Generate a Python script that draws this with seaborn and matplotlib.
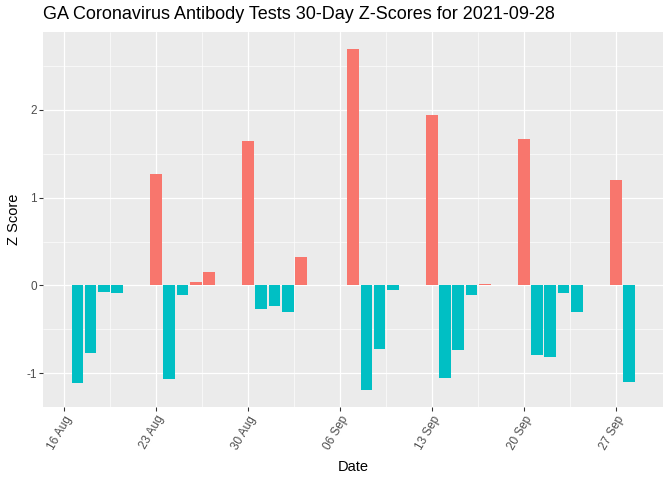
import matplotlib
matplotlib.use("Agg")
import matplotlib.pyplot as plt
import matplotlib.dates as mdates
import matplotlib.ticker as mticker
import seaborn as sns
import pandas as pd
import numpy as np

dates = [
    "2021-08-17", "2021-08-18", "2021-08-19", "2021-08-20",
    "2021-08-23", "2021-08-24", "2021-08-25", "2021-08-26", "2021-08-27",
    "2021-08-30", "2021-08-31", "2021-09-01", "2021-09-02", "2021-09-03",
    "2021-09-07", "2021-09-08", "2021-09-09", "2021-09-10",
    "2021-09-13", "2021-09-14", "2021-09-15", "2021-09-16", "2021-09-17",
    "2021-09-20", "2021-09-21", "2021-09-22", "2021-09-23", "2021-09-24",
    "2021-09-27", "2021-09-28",
]
z_scores = [
    -1.11, -0.77, -0.07, -0.09,
    1.27, -1.07, -0.11, 0.04, 0.15,
    1.64, -0.27, -0.23, -0.30, 0.32,
    2.69, -1.19, -0.72, -0.05,
    1.94, -1.05, -0.73, -0.11, 0.02,
    1.67, -0.79, -0.81, -0.09, -0.30,
    1.20, -1.10,
]
tick_dates = ["2021-08-16", "2021-08-23", "2021-08-30", "2021-09-06",
              "2021-09-13", "2021-09-20", "2021-09-27"]
y_ticks = [-1, 0, 1, 2]
title = "GA Coronavirus Antibody Tests 30-Day Z-Scores for 2021-09-28"

df = pd.DataFrame({"date": pd.to_datetime(dates), "z": z_scores})
df["x"] = mdates.date2num(df["date"])
df["sign"] = np.where(df["z"] > 0, "pos", "neg")

sns.set_theme(style="darkgrid")
plt.rcParams["font.family"] = ["Liberation Sans", "DejaVu Sans"]

fig = plt.figure(figsize=(7, 5), dpi=96)
ax = fig.add_axes([0.0645, 0.152, 0.9225, 0.781])
ax.set_facecolor("#EBEBEB")

sns.barplot(data=df, x="x", y="z", hue="sign", native_scale=True,
            palette={"pos": "#F8766D", "neg": "#00BFC4"}, dodge=False,
            width=0.9, saturation=1, legend=False, ax=ax, linewidth=0)

xt = mdates.date2num(pd.to_datetime(tick_dates))
ax.set_xticks(xt)
ax.xaxis.set_major_formatter(mdates.DateFormatter("%d %b"))
ax.xaxis.set_minor_locator(mticker.FixedLocator(xt[:-1] + 3.5))
ax.set_yticks(y_ticks)
ax.set_yticklabels([str(v) for v in y_ticks])
ax.yaxis.set_minor_locator(mticker.FixedLocator([-0.5, 0.5, 1.5, 2.5]))

xmin = df["x"].min() - 0.45
xmax = df["x"].max() + 0.45
xr = xmax - xmin
ax.set_xlim(xmin - 0.05 * xr, xmax + 0.05 * xr)
ymin, ymax = min(z_scores), max(z_scores)
yr = ymax - ymin
ax.set_ylim(ymin - 0.05 * yr, ymax + 0.05 * yr)

ax.grid(which="major", color="white", linewidth=0.9)
ax.grid(which="minor", color="white", linewidth=0.45)
ax.set_axisbelow(True)
for s in ax.spines.values():
    s.set_visible(False)

ax.tick_params(axis="both", which="major", length=3, width=0.8, color="#333333",
               labelsize=8.8, labelcolor="#4D4D4D", pad=2, bottom=True, left=True)
ax.tick_params(axis="both", which="minor", length=0)
plt.setp(ax.get_xticklabels(), rotation=60, ha="right", va="top", rotation_mode="anchor")

ax.set_xlabel("Date", fontsize=11, color="black", labelpad=6)
ax.set_ylabel("Z Score", fontsize=11, color="black", labelpad=4)
fig.text(0.0645, 0.970, title, fontsize=13.5, color="black", ha="left", va="center")

fig.savefig("out.png", dpi=96)
